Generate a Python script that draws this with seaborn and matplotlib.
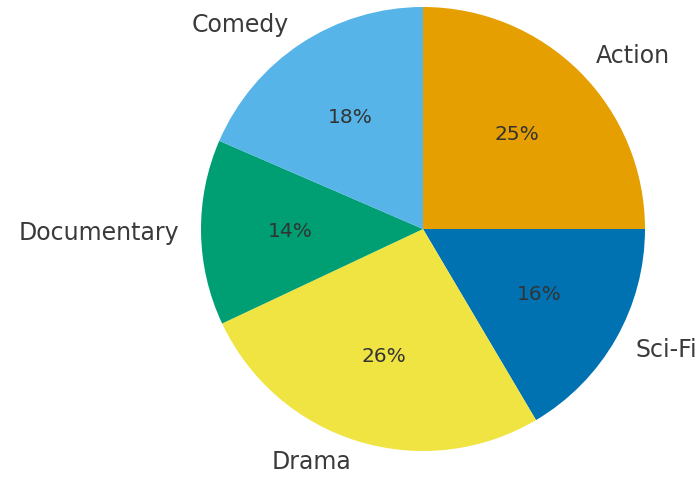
import matplotlib
matplotlib.use("Agg")
import matplotlib.pyplot as plt
import seaborn as sns

# Genre shares (counts out of 200 titles)
genres = ["Action", "Sci-Fi", "Drama", "Documentary", "Comedy"]
counts = [50, 33, 53, 27, 37]
colors = ["#E69F00", "#0072B2", "#F0E442", "#009E73", "#56B4E9"]

sns.set_theme(style="white")
plt.rcParams["font.family"] = ["DejaVu Sans"]

fig = plt.figure(figsize=(7.0, 4.79), dpi=100)
ax = fig.add_axes([145.5 / 700, -27.5 / 479, 555 / 700, 555 / 479])

wedges, texts, autotexts = ax.pie(
    counts,
    labels=genres,
    colors=colors,
    startangle=90,
    counterclock=False,
    autopct="%1.0f%%",
    pctdistance=0.6,
    labeldistance=1.1,
    wedgeprops=dict(linewidth=0),
    textprops=dict(color="#3a3a3a"),
)
for t in texts:
    t.set_fontsize(17)
for t in autotexts:
    t.set_fontsize(14.5)
    t.set_color("#333333")
ax.set_aspect("equal")

fig.savefig("out.png", dpi=100)
